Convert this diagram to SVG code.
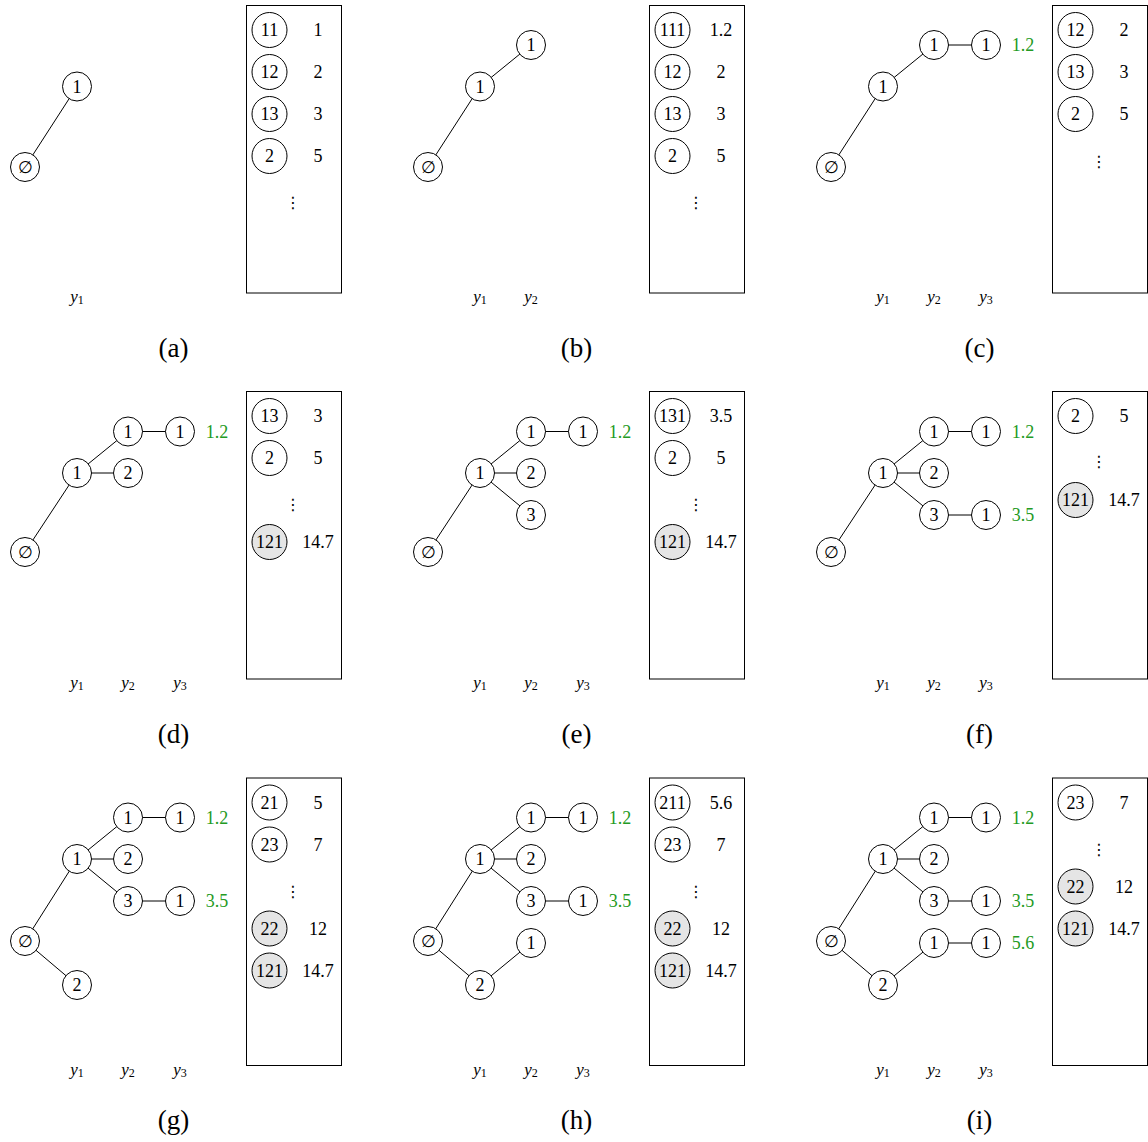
<svg xmlns="http://www.w3.org/2000/svg" width="1148" height="1142" viewBox="0 0 1148 1142">
<style>
.n{fill:#fff;stroke:#000;stroke-width:1}
.s{fill:#e5e5e5;stroke:#000;stroke-width:1}
.box{fill:none;stroke:#000;stroke-width:1}
.e line{stroke:#000;stroke-width:1}
text{font-family:"Liberation Serif","DejaVu Serif",serif;font-size:18px;text-anchor:middle;fill:#000}
.es{font-family:"DejaVu Serif",serif;font-size:17px}
.g{fill:#239a23}
.vd{font-family:"DejaVu Sans",sans-serif;font-size:16px}
.yl{font-style:italic;font-size:17px}
.sub{font-style:normal;font-size:12px}
.cap{font-size:27px}
</style>
<rect width="1148" height="1142" fill="#fff"/>
<g id="connectors" class="e">
<line x1="25" y1="167" x2="77" y2="86.5"/>
<line x1="428" y1="167" x2="480" y2="86.5"/><line x1="480" y1="86.5" x2="531" y2="45"/>
<line x1="831" y1="167" x2="883" y2="86.5"/><line x1="883" y1="86.5" x2="934" y2="45"/><line x1="934" y1="45" x2="986" y2="45"/>
<line x1="25" y1="552" x2="77" y2="473"/><line x1="77" y1="473" x2="128" y2="431.5"/><line x1="128" y1="431.5" x2="180" y2="431.5"/><line x1="77" y1="473" x2="128" y2="473"/>
<line x1="428" y1="552" x2="480" y2="473"/><line x1="480" y1="473" x2="531" y2="431.5"/><line x1="531" y1="431.5" x2="583" y2="431.5"/><line x1="480" y1="473" x2="531" y2="473"/><line x1="480" y1="473" x2="531" y2="515"/>
<line x1="831" y1="552" x2="883" y2="473"/><line x1="883" y1="473" x2="934" y2="431.5"/><line x1="934" y1="431.5" x2="986" y2="431.5"/><line x1="883" y1="473" x2="934" y2="473"/><line x1="883" y1="473" x2="934" y2="515"/><line x1="934" y1="515" x2="986" y2="515"/>
<line x1="25" y1="941" x2="77" y2="859"/><line x1="77" y1="859" x2="128" y2="817.5"/><line x1="128" y1="817.5" x2="180" y2="817.5"/><line x1="77" y1="859" x2="128" y2="859"/><line x1="77" y1="859" x2="128" y2="901"/><line x1="128" y1="901" x2="180" y2="901"/><line x1="25" y1="941" x2="77" y2="985"/>
<line x1="428" y1="941" x2="480" y2="859"/><line x1="480" y1="859" x2="531" y2="817.5"/><line x1="531" y1="817.5" x2="583" y2="817.5"/><line x1="480" y1="859" x2="531" y2="859"/><line x1="480" y1="859" x2="531" y2="901"/><line x1="531" y1="901" x2="583" y2="901"/><line x1="428" y1="941" x2="480" y2="985"/><line x1="480" y1="985" x2="531" y2="943"/>
<line x1="831" y1="941" x2="883" y2="859"/><line x1="883" y1="859" x2="934" y2="817.5"/><line x1="934" y1="817.5" x2="986" y2="817.5"/><line x1="883" y1="859" x2="934" y2="859"/><line x1="883" y1="859" x2="934" y2="901"/><line x1="934" y1="901" x2="986" y2="901"/><line x1="831" y1="941" x2="883" y2="985"/><line x1="883" y1="985" x2="934" y2="943"/><line x1="934" y1="943" x2="986" y2="943"/>
</g>

<!-- Panel a -->
<g id="a-root"><circle class="n" cx="25" cy="167" r="14.5"/><text class="es" x="25" y="173">∅</text></g>
<g id="a-1"><circle class="n" cx="77" cy="86.5" r="14.5"/><text x="77" y="92.5">1</text></g>
<g id="a-labels"><text class="yl" x="77" y="302">y<tspan class="sub" dy="2">1</tspan></text><text class="cap" x="173.5" y="356.5">(a)</text></g>
<g id="a-list"><rect class="box" x="246.5" y="5.5" width="95" height="287.5"/>
<circle class="n" cx="269.5" cy="30" r="17.5"/><text x="269.5" y="36">11</text><text x="318" y="36">1</text>
<circle class="n" cx="269.5" cy="72" r="17.5"/><text x="269.5" y="78">12</text><text x="318" y="78">2</text>
<circle class="n" cx="269.5" cy="114" r="17.5"/><text x="269.5" y="120">13</text><text x="318" y="120">3</text>
<circle class="n" cx="269.5" cy="156" r="17.5"/><text x="269.5" y="162">2</text><text x="318" y="162">5</text>
<text class="vd" x="293" y="208">⋮</text></g>

<!-- Panel b -->
<g id="b-root"><circle class="n" cx="428" cy="167" r="14.5"/><text class="es" x="428" y="173">∅</text></g>
<g id="b-1"><circle class="n" cx="480" cy="86.5" r="14.5"/><text x="480" y="92.5">1</text></g>
<g id="b-11"><circle class="n" cx="531" cy="45" r="14.5"/><text x="531" y="51">1</text></g>
<g id="b-labels"><text class="yl" x="480" y="302">y<tspan class="sub" dy="2">1</tspan></text><text class="yl" x="531" y="302">y<tspan class="sub" dy="2">2</tspan></text><text class="cap" x="576.5" y="356.5">(b)</text></g>
<g id="b-list"><rect class="box" x="649.5" y="5.5" width="95" height="287.5"/>
<circle class="n" cx="672.5" cy="30" r="17.5"/><text x="672.5" y="36">111</text><text x="721" y="36">1.2</text>
<circle class="n" cx="672.5" cy="72" r="17.5"/><text x="672.5" y="78">12</text><text x="721" y="78">2</text>
<circle class="n" cx="672.5" cy="114" r="17.5"/><text x="672.5" y="120">13</text><text x="721" y="120">3</text>
<circle class="n" cx="672.5" cy="156" r="17.5"/><text x="672.5" y="162">2</text><text x="721" y="162">5</text>
<text class="vd" x="696" y="208">⋮</text></g>

<!-- Panel c -->
<g id="c-root"><circle class="n" cx="831" cy="167" r="14.5"/><text class="es" x="831" y="173">∅</text></g>
<g id="c-1"><circle class="n" cx="883" cy="86.5" r="14.5"/><text x="883" y="92.5">1</text></g>
<g id="c-11"><circle class="n" cx="934" cy="45" r="14.5"/><text x="934" y="51">1</text></g>
<g id="c-111"><circle class="n" cx="986" cy="45" r="14.5"/><text x="986" y="51">1</text><text class="g" x="1023" y="51">1.2</text></g>
<g id="c-labels"><text class="yl" x="883" y="302">y<tspan class="sub" dy="2">1</tspan></text><text class="yl" x="934" y="302">y<tspan class="sub" dy="2">2</tspan></text><text class="yl" x="986" y="302">y<tspan class="sub" dy="2">3</tspan></text><text class="cap" x="979.5" y="356.5">(c)</text></g>
<g id="c-list"><rect class="box" x="1052.5" y="5.5" width="95" height="287.5"/>
<circle class="n" cx="1075.5" cy="30" r="17.5"/><text x="1075.5" y="36">12</text><text x="1124" y="36">2</text>
<circle class="n" cx="1075.5" cy="72" r="17.5"/><text x="1075.5" y="78">13</text><text x="1124" y="78">3</text>
<circle class="n" cx="1075.5" cy="114" r="17.5"/><text x="1075.5" y="120">2</text><text x="1124" y="120">5</text>
<text class="vd" x="1099" y="167">⋮</text></g>

<!-- Panel d -->
<g id="d-root"><circle class="n" cx="25" cy="552" r="14.5"/><text class="es" x="25" y="558">∅</text></g>
<g id="d-1"><circle class="n" cx="77" cy="473" r="14.5"/><text x="77" y="479">1</text></g>
<g id="d-11"><circle class="n" cx="128" cy="431.5" r="14.5"/><text x="128" y="437.5">1</text></g>
<g id="d-111"><circle class="n" cx="180" cy="431.5" r="14.5"/><text x="180" y="437.5">1</text><text class="g" x="217" y="437.5">1.2</text></g>
<g id="d-12"><circle class="n" cx="128" cy="473" r="14.5"/><text x="128" y="479">2</text></g>
<g id="d-labels"><text class="yl" x="77" y="688">y<tspan class="sub" dy="2">1</tspan></text><text class="yl" x="128" y="688">y<tspan class="sub" dy="2">2</tspan></text><text class="yl" x="180" y="688">y<tspan class="sub" dy="2">3</tspan></text><text class="cap" x="173.5" y="742.5">(d)</text></g>
<g id="d-list"><rect class="box" x="246.5" y="391.5" width="95" height="287.5"/>
<circle class="n" cx="269.5" cy="416" r="17.5"/><text x="269.5" y="422">13</text><text x="318" y="422">3</text>
<circle class="n" cx="269.5" cy="458" r="17.5"/><text x="269.5" y="464">2</text><text x="318" y="464">5</text>
<text class="vd" x="293" y="510">⋮</text>
<circle class="s" cx="269.5" cy="542" r="17.5"/><text x="269.5" y="548">121</text><text x="318" y="548">14.7</text></g>

<!-- Panel e -->
<g id="e-root"><circle class="n" cx="428" cy="552" r="14.5"/><text class="es" x="428" y="558">∅</text></g>
<g id="e-1"><circle class="n" cx="480" cy="473" r="14.5"/><text x="480" y="479">1</text></g>
<g id="e-11"><circle class="n" cx="531" cy="431.5" r="14.5"/><text x="531" y="437.5">1</text></g>
<g id="e-111"><circle class="n" cx="583" cy="431.5" r="14.5"/><text x="583" y="437.5">1</text><text class="g" x="620" y="437.5">1.2</text></g>
<g id="e-12"><circle class="n" cx="531" cy="473" r="14.5"/><text x="531" y="479">2</text></g>
<g id="e-13"><circle class="n" cx="531" cy="515" r="14.5"/><text x="531" y="521">3</text></g>
<g id="e-labels"><text class="yl" x="480" y="688">y<tspan class="sub" dy="2">1</tspan></text><text class="yl" x="531" y="688">y<tspan class="sub" dy="2">2</tspan></text><text class="yl" x="583" y="688">y<tspan class="sub" dy="2">3</tspan></text><text class="cap" x="576.5" y="742.5">(e)</text></g>
<g id="e-list"><rect class="box" x="649.5" y="391.5" width="95" height="287.5"/>
<circle class="n" cx="672.5" cy="416" r="17.5"/><text x="672.5" y="422">131</text><text x="721" y="422">3.5</text>
<circle class="n" cx="672.5" cy="458" r="17.5"/><text x="672.5" y="464">2</text><text x="721" y="464">5</text>
<text class="vd" x="696" y="510">⋮</text>
<circle class="s" cx="672.5" cy="542" r="17.5"/><text x="672.5" y="548">121</text><text x="721" y="548">14.7</text></g>

<!-- Panel f -->
<g id="f-root"><circle class="n" cx="831" cy="552" r="14.5"/><text class="es" x="831" y="558">∅</text></g>
<g id="f-1"><circle class="n" cx="883" cy="473" r="14.5"/><text x="883" y="479">1</text></g>
<g id="f-11"><circle class="n" cx="934" cy="431.5" r="14.5"/><text x="934" y="437.5">1</text></g>
<g id="f-111"><circle class="n" cx="986" cy="431.5" r="14.5"/><text x="986" y="437.5">1</text><text class="g" x="1023" y="437.5">1.2</text></g>
<g id="f-12"><circle class="n" cx="934" cy="473" r="14.5"/><text x="934" y="479">2</text></g>
<g id="f-13"><circle class="n" cx="934" cy="515" r="14.5"/><text x="934" y="521">3</text></g>
<g id="f-131"><circle class="n" cx="986" cy="515" r="14.5"/><text x="986" y="521">1</text><text class="g" x="1023" y="521">3.5</text></g>
<g id="f-labels"><text class="yl" x="883" y="688">y<tspan class="sub" dy="2">1</tspan></text><text class="yl" x="934" y="688">y<tspan class="sub" dy="2">2</tspan></text><text class="yl" x="986" y="688">y<tspan class="sub" dy="2">3</tspan></text><text class="cap" x="979.5" y="742.5">(f)</text></g>
<g id="f-list"><rect class="box" x="1052.5" y="391.5" width="95" height="287.5"/>
<circle class="n" cx="1075.5" cy="416" r="17.5"/><text x="1075.5" y="422">2</text><text x="1124" y="422">5</text>
<text class="vd" x="1099" y="467">⋮</text>
<circle class="s" cx="1075.5" cy="500" r="17.5"/><text x="1075.5" y="506">121</text><text x="1124" y="506">14.7</text></g>

<!-- Panel g -->
<g id="g-root"><circle class="n" cx="25" cy="941" r="14.5"/><text class="es" x="25" y="947">∅</text></g>
<g id="g-1"><circle class="n" cx="77" cy="859" r="14.5"/><text x="77" y="865">1</text></g>
<g id="g-11"><circle class="n" cx="128" cy="817.5" r="14.5"/><text x="128" y="823.5">1</text></g>
<g id="g-111"><circle class="n" cx="180" cy="817.5" r="14.5"/><text x="180" y="823.5">1</text><text class="g" x="217" y="823.5">1.2</text></g>
<g id="g-12"><circle class="n" cx="128" cy="859" r="14.5"/><text x="128" y="865">2</text></g>
<g id="g-13"><circle class="n" cx="128" cy="901" r="14.5"/><text x="128" y="907">3</text></g>
<g id="g-131"><circle class="n" cx="180" cy="901" r="14.5"/><text x="180" y="907">1</text><text class="g" x="217" y="907">3.5</text></g>
<g id="g-2"><circle class="n" cx="77" cy="985" r="14.5"/><text x="77" y="991">2</text></g>
<g id="g-labels"><text class="yl" x="77" y="1074.5">y<tspan class="sub" dy="2">1</tspan></text><text class="yl" x="128" y="1074.5">y<tspan class="sub" dy="2">2</tspan></text><text class="yl" x="180" y="1074.5">y<tspan class="sub" dy="2">3</tspan></text><text class="cap" x="173.5" y="1129">(g)</text></g>
<g id="g-list"><rect class="box" x="246.5" y="778" width="95" height="287.5"/>
<circle class="n" cx="269.5" cy="802.5" r="17.5"/><text x="269.5" y="808.5">21</text><text x="318" y="808.5">5</text>
<circle class="n" cx="269.5" cy="844.5" r="17.5"/><text x="269.5" y="850.5">23</text><text x="318" y="850.5">7</text>
<text class="vd" x="293" y="897">⋮</text>
<circle class="s" cx="269.5" cy="928.5" r="17.5"/><text x="269.5" y="934.5">22</text><text x="318" y="934.5">12</text>
<circle class="s" cx="269.5" cy="970.5" r="17.5"/><text x="269.5" y="976.5">121</text><text x="318" y="976.5">14.7</text></g>

<!-- Panel h -->
<g id="h-root"><circle class="n" cx="428" cy="941" r="14.5"/><text class="es" x="428" y="947">∅</text></g>
<g id="h-1"><circle class="n" cx="480" cy="859" r="14.5"/><text x="480" y="865">1</text></g>
<g id="h-11"><circle class="n" cx="531" cy="817.5" r="14.5"/><text x="531" y="823.5">1</text></g>
<g id="h-111"><circle class="n" cx="583" cy="817.5" r="14.5"/><text x="583" y="823.5">1</text><text class="g" x="620" y="823.5">1.2</text></g>
<g id="h-12"><circle class="n" cx="531" cy="859" r="14.5"/><text x="531" y="865">2</text></g>
<g id="h-13"><circle class="n" cx="531" cy="901" r="14.5"/><text x="531" y="907">3</text></g>
<g id="h-131"><circle class="n" cx="583" cy="901" r="14.5"/><text x="583" y="907">1</text><text class="g" x="620" y="907">3.5</text></g>
<g id="h-2"><circle class="n" cx="480" cy="985" r="14.5"/><text x="480" y="991">2</text></g>
<g id="h-21"><circle class="n" cx="531" cy="943" r="14.5"/><text x="531" y="949">1</text></g>
<g id="h-labels"><text class="yl" x="480" y="1074.5">y<tspan class="sub" dy="2">1</tspan></text><text class="yl" x="531" y="1074.5">y<tspan class="sub" dy="2">2</tspan></text><text class="yl" x="583" y="1074.5">y<tspan class="sub" dy="2">3</tspan></text><text class="cap" x="576.5" y="1129">(h)</text></g>
<g id="h-list"><rect class="box" x="649.5" y="778" width="95" height="287.5"/>
<circle class="n" cx="672.5" cy="802.5" r="17.5"/><text x="672.5" y="808.5">211</text><text x="721" y="808.5">5.6</text>
<circle class="n" cx="672.5" cy="844.5" r="17.5"/><text x="672.5" y="850.5">23</text><text x="721" y="850.5">7</text>
<text class="vd" x="696" y="897">⋮</text>
<circle class="s" cx="672.5" cy="928.5" r="17.5"/><text x="672.5" y="934.5">22</text><text x="721" y="934.5">12</text>
<circle class="s" cx="672.5" cy="970.5" r="17.5"/><text x="672.5" y="976.5">121</text><text x="721" y="976.5">14.7</text></g>

<!-- Panel i -->
<g id="i-root"><circle class="n" cx="831" cy="941" r="14.5"/><text class="es" x="831" y="947">∅</text></g>
<g id="i-1"><circle class="n" cx="883" cy="859" r="14.5"/><text x="883" y="865">1</text></g>
<g id="i-11"><circle class="n" cx="934" cy="817.5" r="14.5"/><text x="934" y="823.5">1</text></g>
<g id="i-111"><circle class="n" cx="986" cy="817.5" r="14.5"/><text x="986" y="823.5">1</text><text class="g" x="1023" y="823.5">1.2</text></g>
<g id="i-12"><circle class="n" cx="934" cy="859" r="14.5"/><text x="934" y="865">2</text></g>
<g id="i-13"><circle class="n" cx="934" cy="901" r="14.5"/><text x="934" y="907">3</text></g>
<g id="i-131"><circle class="n" cx="986" cy="901" r="14.5"/><text x="986" y="907">1</text><text class="g" x="1023" y="907">3.5</text></g>
<g id="i-2"><circle class="n" cx="883" cy="985" r="14.5"/><text x="883" y="991">2</text></g>
<g id="i-21"><circle class="n" cx="934" cy="943" r="14.5"/><text x="934" y="949">1</text></g>
<g id="i-211"><circle class="n" cx="986" cy="943" r="14.5"/><text x="986" y="949">1</text><text class="g" x="1023" y="949">5.6</text></g>
<g id="i-labels"><text class="yl" x="883" y="1074.5">y<tspan class="sub" dy="2">1</tspan></text><text class="yl" x="934" y="1074.5">y<tspan class="sub" dy="2">2</tspan></text><text class="yl" x="986" y="1074.5">y<tspan class="sub" dy="2">3</tspan></text><text class="cap" x="979.5" y="1129">(i)</text></g>
<g id="i-list"><rect class="box" x="1052.5" y="778" width="95" height="287.5"/>
<circle class="n" cx="1075.5" cy="802.5" r="17.5"/><text x="1075.5" y="808.5">23</text><text x="1124" y="808.5">7</text>
<text class="vd" x="1099" y="855">⋮</text>
<circle class="s" cx="1075.5" cy="886.5" r="17.5"/><text x="1075.5" y="892.5">22</text><text x="1124" y="892.5">12</text>
<circle class="s" cx="1075.5" cy="928.5" r="17.5"/><text x="1075.5" y="934.5">121</text><text x="1124" y="934.5">14.7</text></g>
</svg>
